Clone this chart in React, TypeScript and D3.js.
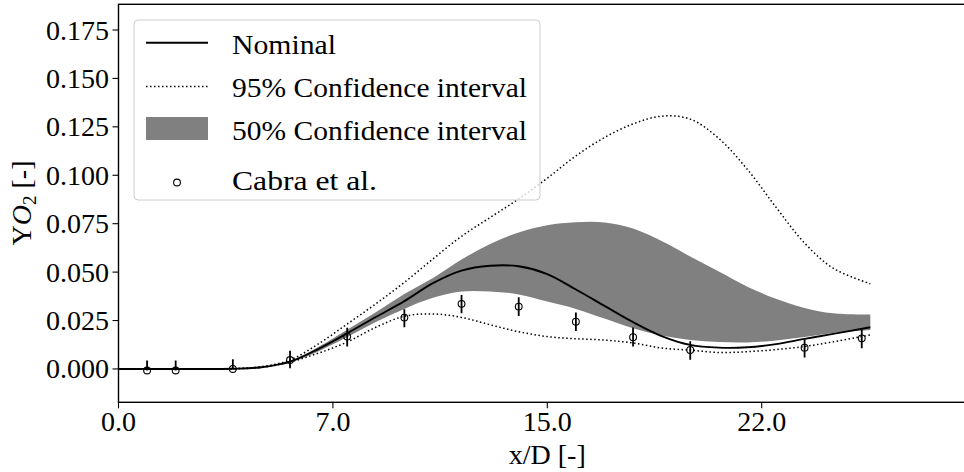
import React from 'react';
import * as d3 from 'd3';

// ---- data ----
const xGrid = [0, 2, 4, 5, 6, 7, 8, 9, 10, 11, 12, 13, 14, 15, 16, 17, 18, 19, 20, 21, 22, 23, 24, 25, 26.3];
const nominal = [0, 0, 0.0001, 0.0009, 0.0038, 0.0104, 0.0184, 0.0268, 0.0350, 0.0443, 0.0508, 0.0533, 0.0530, 0.0490, 0.0410, 0.0326, 0.0242, 0.0170, 0.0124, 0.0110, 0.0112, 0.0128, 0.0155, 0.0181, 0.0215];
const ci50Upper = [0, 0, 0.0001, 0.0010, 0.0042, 0.0115, 0.0203, 0.0293, 0.0387, 0.0470, 0.0565, 0.0645, 0.0705, 0.0742, 0.0757, 0.0756, 0.0725, 0.0660, 0.0580, 0.0503, 0.0425, 0.0362, 0.0315, 0.0287, 0.0280];
const ci50Lower = [0, 0, 0.0001, 0.0008, 0.0034, 0.0092, 0.0165, 0.0242, 0.0310, 0.0367, 0.0400, 0.0400, 0.0385, 0.0348, 0.0310, 0.0260, 0.0210, 0.0173, 0.0150, 0.0139, 0.0137, 0.0147, 0.0165, 0.0185, 0.0201];
const ci95Upper = [0, 0, 0.0001, 0.0012, 0.0046, 0.0130, 0.0232, 0.0336, 0.0447, 0.0568, 0.0685, 0.0782, 0.0878, 0.0985, 0.1100, 0.1195, 0.1265, 0.1305, 0.1290, 0.1190, 0.1030, 0.0835, 0.0650, 0.0520, 0.0440];
const ci95Lower = [0, 0, 0.0001, 0.0008, 0.0036, 0.0082, 0.0139, 0.0215, 0.0272, 0.0284, 0.0266, 0.0228, 0.0192, 0.0167, 0.0156, 0.0149, 0.0134, 0.0108, 0.0097, 0.0085, 0.0089, 0.0100, 0.0116, 0.0140, 0.0176];

const expX = [1, 2, 4, 6, 8, 10, 12, 14, 16, 18, 20, 24, 26];
const expY = [-0.0008, -0.0008, 0.0, 0.0046, 0.0167, 0.0265, 0.0336, 0.0322, 0.0244, 0.0164, 0.0098, 0.0110, 0.0158];
const expErrUp = [0.0052, 0.0052, 0.0050, 0.0048, 0.0046, 0.0043, 0.0046, 0.0048, 0.0048, 0.0050, 0.0045, 0.0043, 0.0046];
const expErrDown = [0, 0, 0, 0.0042, 0.0051, 0.0050, 0.0048, 0.0048, 0.0048, 0.0048, 0.0051, 0.0051, 0.0051];

const xTicks = [0, 7.5, 15, 22.5];
const yTicks = [0, 0.025, 0.05, 0.075, 0.1, 0.125, 0.15, 0.175];

const legendLabels = ['Nominal', '95% Confidence interval', '50% Confidence interval', 'Cabra et al.'];

const W = 964;
const H = 472;
const FONT = '"Liberation Serif", "DejaVu Serif", serif';

export default function App() {
  const left = 118.5;
  const right = 976.1;
  const top = 4.3;
  const bottom = 402.3;

  const x = d3.scaleLinear().domain([0, 30]).range([left, right]);
  const y = d3.scaleLinear().domain([-0.01722, 0.18827]).range([bottom, top]);

  const idx = xGrid.map((_, i) => i);
  const curve = d3.curveCatmullRom.alpha(0.5);
  const lineOf = (arr: number[]) =>
    d3.line<number>().x((i) => x(xGrid[i])).y((i) => y(arr[i])).curve(curve)(idx) || '';
  const band =
    d3.area<number>()
      .x((i) => x(xGrid[i]))
      .y0((i) => y(ci50Lower[i]))
      .y1((i) => y(ci50Upper[i]))
      .curve(curve)(idx) || '';

  const dotted = '1.5 2.5';

  // legend geometry
  const lgX = 134, lgY = 20, lgW = 406, lgH = 180;
  const hx0 = 146, hx1 = 208, tx = 232;
  const rowsHandle = [42.7, 86.5, 128.5, 182.5];
  const rowsBase = [54, 97, 140, 190];
  const textLens = [104, 295, 295, 145];

  return (
    <svg width={W} height={H} style={{ position: 'absolute', left: 0, top: 0, background: '#fff' }}
      fontFamily={FONT}>
      <defs>
        <clipPath id="plotclip">
          <rect x={left} y={top} width={right - left} height={bottom - top} />
        </clipPath>
      </defs>
      <rect x={0} y={0} width={W} height={H} fill="#fff" />
      <g clipPath="url(#plotclip)">
        <path d={band} fill="#808080" stroke="none" />
        <path d={lineOf(ci95Upper)} fill="none" stroke="#000" strokeWidth={1.5} strokeDasharray={dotted} />
        <path d={lineOf(ci95Lower)} fill="none" stroke="#000" strokeWidth={1.5} strokeDasharray={dotted} />
        <path d={lineOf(nominal)} fill="none" stroke="#000" strokeWidth={1.9} />
        {expX.map((v, i) => (
          <g key={i}>
            <line x1={x(v)} x2={x(v)} y1={y(expY[i] + expErrUp[i])} y2={y(expY[i] - expErrDown[i])}
              stroke="#000" strokeWidth={1.8} />
            <circle cx={x(v)} cy={y(expY[i])} r={3.4} fill="none" stroke="#000" strokeWidth={1.1} />
          </g>
        ))}
      </g>

      {/* frame */}
      <rect x={left} y={top} width={right - left} height={bottom - top} fill="none" stroke="#000" strokeWidth={1.4} />

      {/* x ticks */}
      {xTicks.map((t) => (
        <g key={t}>
          <line x1={x(t)} x2={x(t)} y1={bottom} y2={bottom + 6} stroke="#000" strokeWidth={1.1} />
          <text x={x(t)} y={431} textAnchor="middle" fontSize={28} fill="#000">
            {`${Math.floor(t)}.0`}
          </text>
        </g>
      ))}
      {/* y ticks */}
      {yTicks.map((t) => (
        <g key={t}>
          <line x1={left - 6} x2={left} y1={y(t)} y2={y(t)} stroke="#000" strokeWidth={1.1} />
          <text x={109} y={y(t)} dy="0.34em" textAnchor="end" fontSize={28} fill="#000">
            {t.toFixed(3)}
          </text>
        </g>
      ))}

      {/* axis labels */}
      <text x={(left + right) / 2} y={464} textAnchor="middle" fontSize={28} fill="#000">x/D [-]</text>
      <text transform={`translate(31, 203) rotate(-90)`} textAnchor="middle" fontSize={28} fill="#000">
        Y<tspan fontStyle="italic">O</tspan>
        <tspan fontSize={19} dy={5}>2</tspan>
        <tspan dy={-5}> [-]</tspan>
      </text>

      {/* legend */}
      <rect x={lgX} y={lgY} width={lgW} height={lgH} rx={4} ry={4} fill="#fff" fillOpacity={0.8}
        stroke="#cccccc" strokeWidth={1} />
      <line x1={hx0} x2={hx1} y1={rowsHandle[0]} y2={rowsHandle[0]} stroke="#000" strokeWidth={1.9} />
      <line x1={hx0} x2={hx1} y1={rowsHandle[1]} y2={rowsHandle[1]} stroke="#000" strokeWidth={1.5} strokeDasharray={dotted} />
      <rect x={hx0} y={rowsHandle[2] - 11.5} width={hx1 - hx0} height={23} fill="#808080" />
      <circle cx={(hx0 + hx1) / 2} cy={rowsHandle[3]} r={3.4} fill="none" stroke="#000" strokeWidth={1.1} />
      {legendLabels.map((l, i) => (
        <text key={l} x={tx} y={rowsBase[i]} fontSize={28} fill="#000" textLength={textLens[i]}
          lengthAdjust="spacingAndGlyphs">{l}</text>
      ))}
    </svg>
  );
}
